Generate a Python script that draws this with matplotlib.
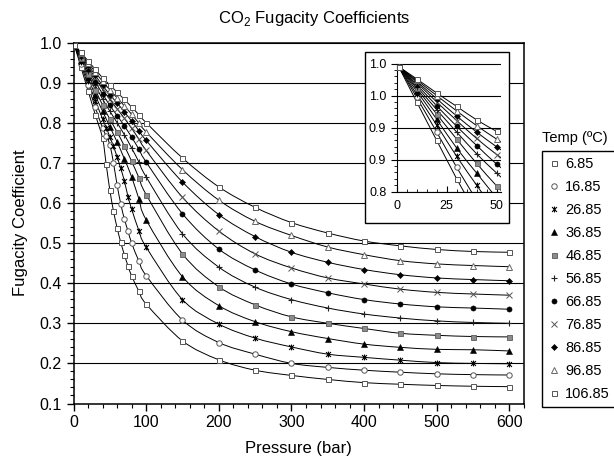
import numpy as np
import matplotlib.pyplot as plt
from matplotlib.path import Path
from matplotlib.patches import PathPatch, Rectangle
from matplotlib.lines import Line2D

plt.rcParams['font.family'] = ['Liberation Sans', 'DejaVu Sans']
plt.rcParams['mathtext.fontset'] = 'custom'
plt.rcParams['mathtext.rm'] = 'Liberation Sans'

# pressures (bar) of the data points
p_low = [1, 10, 20, 30, 40, 45, 50, 55, 60, 65, 70, 75, 80, 90, 100,
         150, 200, 250, 300, 350, 400, 450, 500, 550, 600]
p_high = [1, 10, 20, 30, 40, 50, 60, 70, 80, 90, 100,
          150, 200, 250, 300, 350, 400, 450, 500, 550, 600]

temps = ['6.85', '16.85', '26.85', '36.85', '46.85', '56.85',
         '66.85', '76.85', '86.85', '96.85', '106.85']

# fugacity coefficients
phi_6 = [0.995, 0.940, 0.880, 0.820, 0.761, 0.696, 0.632, 0.580, 0.538, 0.502, 0.471, 0.443, 0.418,
         0.380, 0.348, 0.256, 0.209, 0.183, 0.170, 0.160, 0.152, 0.148, 0.145, 0.143, 0.142]
phi_16 = [0.995, 0.947, 0.893, 0.838, 0.787, 0.767, 0.745, 0.700, 0.645, 0.598, 0.560, 0.530, 0.500,
          0.455, 0.419, 0.308, 0.252, 0.223, 0.200, 0.190, 0.183, 0.178, 0.174, 0.172, 0.171]
phi_26 = [0.995, 0.952, 0.904, 0.855, 0.810, 0.788, 0.765, 0.741, 0.715, 0.686, 0.655, 0.616, 0.585,
          0.531, 0.490, 0.359, 0.298, 0.263, 0.241, 0.223, 0.215, 0.208, 0.202, 0.200, 0.199]
phi_36 = [0.995, 0.957, 0.913, 0.868, 0.829, 0.790, 0.752, 0.710, 0.665, 0.610, 0.558,
          0.416, 0.344, 0.304, 0.279, 0.262, 0.248, 0.240, 0.235, 0.234, 0.231]
phi_46 = [0.995, 0.961, 0.921, 0.882, 0.844, 0.809, 0.777, 0.742, 0.704, 0.663, 0.621,
          0.473, 0.391, 0.346, 0.316, 0.300, 0.287, 0.275, 0.270, 0.267, 0.266]
phi_56 = [0.995, 0.964, 0.928, 0.893, 0.859, 0.829, 0.800, 0.770, 0.737, 0.702, 0.665,
          0.523, 0.440, 0.390, 0.359, 0.338, 0.323, 0.313, 0.306, 0.302, 0.300]
phi_66 = [0.995, 0.967, 0.934, 0.902, 0.872, 0.843, 0.818, 0.792, 0.764, 0.734, 0.702,
          0.573, 0.485, 0.433, 0.398, 0.376, 0.359, 0.348, 0.341, 0.338, 0.335]
phi_76 = [0.995, 0.970, 0.940, 0.911, 0.883, 0.858, 0.835, 0.811, 0.786, 0.759, 0.731,
          0.614, 0.530, 0.473, 0.438, 0.413, 0.398, 0.385, 0.377, 0.373, 0.370]
phi_86 = [0.995, 0.972, 0.945, 0.918, 0.893, 0.870, 0.849, 0.827, 0.804, 0.780, 0.756,
          0.652, 0.571, 0.516, 0.477, 0.452, 0.434, 0.421, 0.413, 0.409, 0.406]
phi_96 = [0.995, 0.974, 0.950, 0.926, 0.903, 0.882, 0.862, 0.842, 0.821, 0.799, 0.777,
          0.683, 0.607, 0.554, 0.519, 0.490, 0.471, 0.456, 0.448, 0.444, 0.441]
phi_106 = [0.995, 0.976, 0.954, 0.933, 0.912, 0.894, 0.876, 0.858, 0.839, 0.820, 0.800,
           0.712, 0.640, 0.589, 0.551, 0.525, 0.505, 0.493, 0.484, 0.479, 0.477]

series = [(p_low, phi_6), (p_low, phi_16), (p_low, phi_26), (p_high, phi_36),
          (p_high, phi_46), (p_high, phi_56), (p_high, phi_66), (p_high, phi_76),
          (p_high, phi_86), (p_high, phi_96), (p_high, phi_106)]

inset_yticks = [0.80, 0.85, 0.90, 0.95, 1.00]
inset_ylabels = ['0.8', '0.9', '0.9', '1.0', '1.0']

# Excel-like "star" marker: x with a vertical bar
star = Path([(-1, -1), (1, 1), (-1, 1), (1, -1), (0, -1.2), (0, 1.2)],
            [Path.MOVETO, Path.LINETO, Path.MOVETO, Path.LINETO, Path.MOVETO, Path.LINETO])

styles = [
    dict(marker='s', mfc='white', mec='#555555', ms=3.6, mew=0.7),
    dict(marker='o', mfc='white', mec='#555555', ms=3.9, mew=0.7),
    dict(marker=star, mfc='none', mec='black', ms=4.2, mew=0.8),
    dict(marker='^', mfc='black', mec='black', ms=3.9, mew=0.4),
    dict(marker='s', mfc='#8c8c8c', mec='#5a5a5a', ms=3.6, mew=0.6),
    dict(marker='+', mfc='none', mec='#222222', ms=4.6, mew=0.8),
    dict(marker='o', mfc='black', mec='black', ms=3.7, mew=0.4),
    dict(marker='x', mfc='none', mec='#555555', ms=3.9, mew=0.7),
    dict(marker='D', mfc='black', mec='black', ms=3.1, mew=0.4),
    dict(marker='^', mfc='white', mec='#666666', ms=4.1, mew=0.7),
    dict(marker='s', mfc='white', mec='#555555', ms=3.6, mew=0.7),
]


def smooth_path(x, y):
    # smoothed line through the points, like Excel's smoothed line
    pts = np.column_stack([x, y]).astype(float)
    verts = [pts[0]]
    codes = [Path.MOVETO]
    n = len(pts)
    for i in range(n - 1):
        p0 = pts[i - 1] if i > 0 else pts[i]
        p1 = pts[i]
        p2 = pts[i + 1]
        p3 = pts[i + 2] if i + 2 < n else pts[i + 1]
        verts += [p1 + (p2 - p0) / 6.0, p2 - (p3 - p1) / 6.0, p2]
        codes += [Path.CURVE4] * 3
    return Path(verts, codes)


fig = plt.figure(figsize=(6.14, 4.58), dpi=100)
W, H = 614.0, 458.0
ax = fig.add_axes([73.5 / W, 1 - 403.5 / H, (524 - 73.5) / W, (403.5 - 42.5) / H])

for (p, v), st in zip(series, styles):
    ax.add_patch(PathPatch(smooth_path(p, v), fill=False, edgecolor='black', lw=0.7, zorder=2))
    ax.plot(p, v, linestyle='none', zorder=3, **st)

ax.set_xlim(0, 620)
ax.set_ylim(0.1, 1.0)
ax.set_xticks(np.arange(0, 601, 100))
ax.set_xticks(np.arange(0, 621, 20), minor=True)
ax.set_yticks(np.round(np.arange(0.1, 1.01, 0.1), 1))
ax.set_yticks(np.arange(0.1, 1.001, 0.02), minor=True)
ax.yaxis.set_major_formatter(plt.FormatStrFormatter('%.1f'))
ax.grid(axis='y', which='major', color='black', lw=0.8)
ax.tick_params(which='major', direction='out', length=5, width=1, labelsize=11.5)
ax.tick_params(which='minor', direction='out', length=3, width=0.8)
for s in ax.spines.values():
    s.set_linewidth(1.1)
ax.set_xlabel('Pressure (bar)', fontsize=12)
ax.set_ylabel('Fugacity Coefficient', fontsize=12)
ax.xaxis.set_label_coords(0.5, -0.105)
ax.yaxis.set_label_coords(-0.10, 0.5)

fig.text(314 / W, 1 - 18 / H, r'CO$_\mathregular{2}$ Fugacity Coefficients',
         ha='center', va='center', fontsize=12)

# inset box
fig.patches.append(Rectangle((365 / W, 1 - 223 / H), 144 / W, 171 / H, transform=fig.transFigure,
                             facecolor='white', edgecolor='black', lw=1.0, zorder=5))
axi = fig.add_axes([396.7 / W, 1 - 191.7 / H, (500.7 - 396.7) / W, (191.7 - 63.5) / H])
axi.set_zorder(6)
for (p, v), st in zip(series, styles):
    axi.add_patch(PathPatch(smooth_path(p, v), fill=False, edgecolor='black', lw=0.7, zorder=2))
    axi.plot(p, v, linestyle='none', zorder=3, clip_on=True, **st)
axi.set_xlim(0, 52)
axi.set_ylim(0.8, 1.0)
axi.set_xticks([0, 25, 50])
axi.set_xticks(np.arange(0, 51, 5), minor=True)
axi.set_yticks(inset_yticks, labels=inset_ylabels)
axi.set_yticks(np.arange(0.8, 1.001, 0.01), minor=True)
axi.grid(axis='y', which='major', color='black', lw=0.8)
axi.spines['right'].set_visible(False)
axi.spines['top'].set_visible(False)
axi.tick_params(axis='x', which='both', direction='in', labelsize=9, pad=6)
axi.tick_params(axis='y', which='both', direction='out', labelsize=9)
axi.tick_params(which='major', length=4)
axi.tick_params(which='minor', length=2.5)

# legend
handles = [Line2D([], [], linestyle='none', **st) for st in styles]
leg = fig.legend(handles, temps, loc='upper left', bbox_to_anchor=(542 / W, 1 - 151 / H),
                 frameon=True, fancybox=False, edgecolor='black', framealpha=1,
                 borderaxespad=0, fontsize=10.5, labelspacing=0.62, handlelength=0.8,
                 handletextpad=0.4, borderpad=0.4)
leg.get_frame().set_linewidth(1.0)
fig.text(542 / W, 1 - 138 / H, 'Temp (ºC)', ha='left', va='center', fontsize=10.5)

fig.savefig('out.png', dpi=100)
